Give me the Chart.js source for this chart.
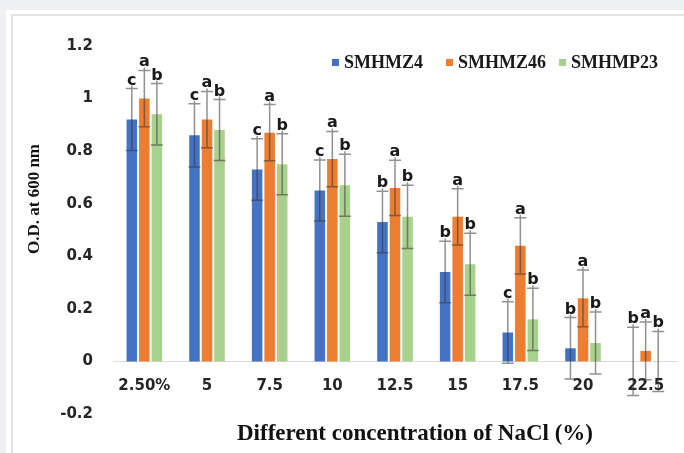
<!DOCTYPE html>
<html>
<head>
<meta charset="utf-8">
<script src="https://cdn.jsdelivr.net/npm/chart.js@4.4.1/dist/chart.umd.min.js"></script>
<style>
  html, body { margin: 0; padding: 0; }
  body { width: 684px; height: 453px; background: #eef0f3; position: relative; overflow: hidden; }
  #card { position: absolute; left: 6px; top: 10px; width: 700px; height: 470px; background: #ffffff; }
  #frame { position: absolute; left: 11px; top: 14px; width: 700px; height: 470px; border-left: 2px solid #e3e3e3; border-top: 2px solid #e3e3e3; }
  #chart { position: absolute; left: 0; top: 0; }
</style>
</head>
<body>
<div id="card"></div>
<div id="frame"></div>
<canvas id="chart" width="684" height="453"></canvas>
<script>
// NaCl concentrations on the category axis
const categories = ['2.50%', '5', '7.5', '10', '12.5', '15', '17.5', '20', '22.5'];

// Mean O.D. at 600 nm for each strain
const smhmz4  = [0.92, 0.86, 0.73, 0.65, 0.53, 0.34, 0.11, 0.05, 0];
const smhmz46 = [1.00, 0.92, 0.87, 0.77, 0.66, 0.55, 0.44, 0.24, 0.04];
const smhmp23 = [0.94, 0.88, 0.75, 0.67, 0.55, 0.37, 0.16, 0.07, 0];

// Error bar half-lengths
const smhmz4Err  = [0.118, 0.12, 0.117, 0.116, 0.117, 0.117, 0.117, 0.117, 0.13];
const smhmz46Err = [0.107, 0.107, 0.107, 0.105, 0.105, 0.107, 0.107, 0.108, 0.11];
const smhmp23Err = [0.117, 0.116, 0.116, 0.118, 0.12, 0.118, 0.118, 0.118, 0.114];

// Significance letters
const smhmz4Letters  = ['c', 'c', 'c', 'c', 'b', 'b', 'c', 'b', 'b'];
const smhmz46Letters = ['a', 'a', 'a', 'a', 'a', 'a', 'a', 'a', 'a'];
const smhmp23Letters = ['b', 'b', 'b', 'b', 'b', 'b', 'b', 'b', 'b'];

// Y axis tick values
const yTicks = [-0.2, 0, 0.2, 0.4, 0.6, 0.8, 1, 1.2];

const seriesNames = ['SMHMZ4', 'SMHMZ46', 'SMHMP23'];
const seriesColors = ['#4472c4', '#ed7d31', '#a9d18e'];

const tickFont = { family: 'DejaVu Sans', weight: 'bold', size: 15 };

const errorBarsPlugin = {
  id: 'errorBars',
  afterDatasetsDraw(chart) {
    const ctx = chart.ctx;
    const yScale = chart.scales.y;
    chart.data.datasets.forEach((ds, di) => {
      const meta = chart.getDatasetMeta(di);
      meta.data.forEach((bar, i) => {
        const v = ds.data[i];
        const e = ds.errors[i];
        const yTop = yScale.getPixelForValue(v + e);
        const yBot = yScale.getPixelForValue(v - e);
        const x = bar.x;
        ctx.save();
        ctx.strokeStyle = 'rgba(55,55,55,0.55)';
        ctx.lineWidth = 1.5;
        ctx.beginPath();
        ctx.moveTo(x, yTop - 3);
        ctx.lineTo(x, yBot);
        ctx.moveTo(x - 6, yTop);
        ctx.lineTo(x + 6, yTop);
        ctx.moveTo(x - 6, yBot);
        ctx.lineTo(x + 6, yBot);
        ctx.stroke();
        ctx.fillStyle = '#1a1a1a';
        ctx.font = 'bold 16px "DejaVu Sans"';
        ctx.textAlign = 'center';
        ctx.textBaseline = 'alphabetic';
        ctx.fillText(ds.letters[i], x, yTop - 4);
        ctx.restore();
      });
    });
  }
};

const textPlugin = {
  id: 'chartText',
  afterDraw(chart) {
    const ctx = chart.ctx;
    ctx.save();
    // legend
    const items = [332, 446, 559];
    chart.data.datasets.forEach((ds, di) => {
      const lx = items[di];
      ctx.fillStyle = ds.backgroundColor;
      ctx.fillRect(lx, 59, 7, 7);
      ctx.fillStyle = '#1a1a1a';
      ctx.font = 'bold 18px "Liberation Serif"';
      ctx.textAlign = 'left';
      ctx.textBaseline = 'middle';
      ctx.fillText(ds.label, lx + 12, 63);
    });
    // axis titles
    ctx.fillStyle = '#111';
    ctx.font = 'bold 23px "Liberation Serif"';
    ctx.textAlign = 'center';
    ctx.textBaseline = 'middle';
    ctx.fillText('Different concentration of NaCl (%)', 415, 434);
    ctx.translate(35, 199);
    ctx.rotate(-Math.PI / 2);
    ctx.font = 'bold 17px "Liberation Serif"';
    ctx.fillText('O.D. at 600 nm', 0, 0);
    ctx.restore();
  }
};

new Chart(document.getElementById('chart'), {
  type: 'bar',
  data: {
    labels: categories,
    datasets: [
      { label: seriesNames[0], data: smhmz4, errors: smhmz4Err, letters: smhmz4Letters, backgroundColor: seriesColors[0] },
      { label: seriesNames[1], data: smhmz46, errors: smhmz46Err, letters: smhmz46Letters, backgroundColor: seriesColors[1] },
      { label: seriesNames[2], data: smhmp23, errors: smhmp23Err, letters: smhmp23Letters, backgroundColor: seriesColors[2] }
    ]
  },
  options: {
    responsive: false,
    devicePixelRatio: 1,
    animation: false,
    layout: { padding: { top: 46, bottom: 39, left: 0, right: 7 } },
    datasets: { bar: { barPercentage: 0.84, categoryPercentage: 0.6 } },
    plugins: { legend: { display: false }, tooltip: { enabled: false } },
    scales: {
      x: {
        position: { y: 0 },
        grid: { display: false, drawTicks: false },
        border: { display: true, color: '#d9d9d9', width: 1 },
        ticks: { font: tickFont, color: '#262626', padding: 16, maxRotation: 0 }
      },
      y: {
        min: -0.2,
        max: 1.2,
        afterBuildTicks(scale) { scale.ticks = yTicks.map(v => ({ value: v })); },
        afterFit(scale) { scale.width = 113; },
        grid: { display: false, drawTicks: false },
        border: { display: false },
        ticks: {
          font: tickFont,
          color: '#262626',
          padding: 20,
          callback: v => String(+v.toFixed(1))
        }
      }
    }
  },
  plugins: [errorBarsPlugin, textPlugin]
});
</script>
</body>
</html>
